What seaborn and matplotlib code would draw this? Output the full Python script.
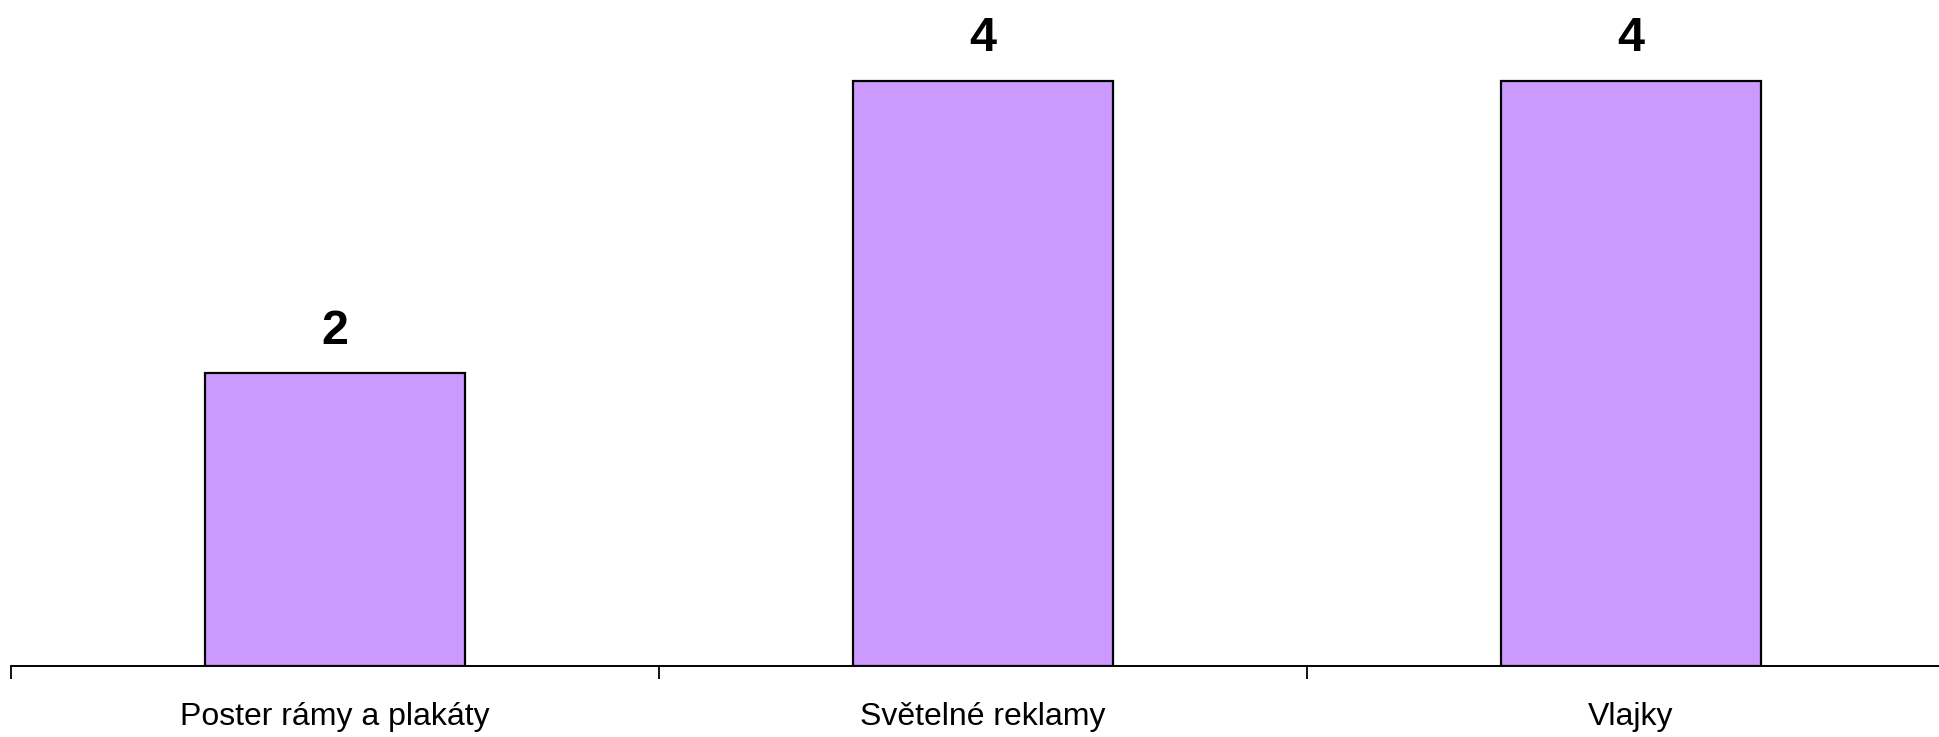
import matplotlib
matplotlib.use("Agg")
import matplotlib.pyplot as plt
import seaborn as sns

# data
kategorie = ["Poster rámy a plakáty", "Světelné reklamy", "Vlajky"]
pocty = [2, 4, 4]

sns.set_theme(style="white")
plt.rcParams['font.family'] = ['Liberation Sans Narrow', 'Liberation Sans', 'DejaVu Sans']

fig = plt.figure(figsize=(19.39, 7.37), dpi=100)
ax = fig.add_axes([11 / 1939, 71 / 737, 1944 / 1939, 666 / 737])

sns.barplot(x=kategorie, y=pocty, color="#CC99FF", saturation=1,
            edgecolor="black", linewidth=1.6, width=0.4, ax=ax)

ax.set_xlim(-0.5, 2.5)
ax.set_ylim(0, 4.55)
ax.set_xlabel("")
ax.set_ylabel("")
ax.set_yticks([])

for s in ["top", "right", "left"]:
    ax.spines[s].set_visible(False)
ax.spines["bottom"].set_linewidth(1.4)
ax.spines["bottom"].set_color("black")

# popisky kategorii bez carek, carky mezi kategoriemi
ax.tick_params(axis="x", which="major", bottom=False, length=0, pad=26, labelsize=23)
ax.set_xticks([-0.5, 0.5, 1.5, 2.5], minor=True)
ax.tick_params(axis="x", which="minor", bottom=True, length=9.5, width=1.3,
               color="black", direction="out")
for lab in ax.get_xticklabels():
    lab.set_color("black")

ax.bar_label(ax.containers[0], padding=14, fontsize=35, fontweight="bold",
             family=["Liberation Sans", "DejaVu Sans"], color="black")

fig.savefig("out.png", dpi=100)
